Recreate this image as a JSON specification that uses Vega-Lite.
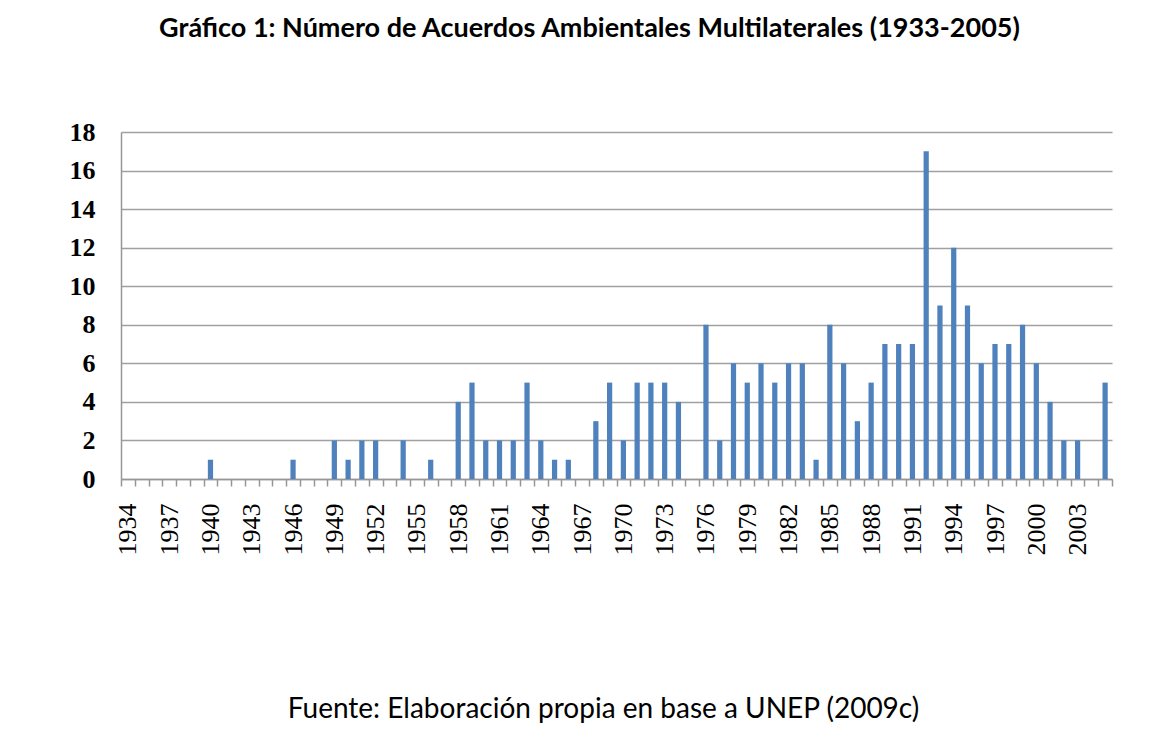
{
  "$schema": "https://vega.github.io/schema/vega-lite/v6.json",
  "autosize": {"type": "none"},
  "width": 991,
  "height": 347,
  "padding": {"left": 121, "top": 132, "right": 54, "bottom": 259},
  "background": "white",
  "title": {
    "text": "Gráfico 1: Número de Acuerdos Ambientales Multilaterales (1933-2005)",
    "font": "Lato",
    "fontSize": 27,
    "fontWeight": "bold",
    "color": "black",
    "anchor": "middle",
    "frame": "group",
    "baseline": "alphabetic",
    "offset": 55,
    "dx": -27
  },
  "data": {
    "values": [
      {"anio": "1934", "acuerdos": 0}, {"anio": "1935", "acuerdos": 0}, {"anio": "1936", "acuerdos": 0},
      {"anio": "1937", "acuerdos": 0}, {"anio": "1938", "acuerdos": 0}, {"anio": "1939", "acuerdos": 0},
      {"anio": "1940", "acuerdos": 1}, {"anio": "1941", "acuerdos": 0}, {"anio": "1942", "acuerdos": 0},
      {"anio": "1943", "acuerdos": 0}, {"anio": "1944", "acuerdos": 0}, {"anio": "1945", "acuerdos": 0},
      {"anio": "1946", "acuerdos": 1}, {"anio": "1947", "acuerdos": 0}, {"anio": "1948", "acuerdos": 0},
      {"anio": "1949", "acuerdos": 2}, {"anio": "1950", "acuerdos": 1}, {"anio": "1951", "acuerdos": 2},
      {"anio": "1952", "acuerdos": 2}, {"anio": "1953", "acuerdos": 0}, {"anio": "1954", "acuerdos": 2},
      {"anio": "1955", "acuerdos": 0}, {"anio": "1956", "acuerdos": 1}, {"anio": "1957", "acuerdos": 0},
      {"anio": "1958", "acuerdos": 4}, {"anio": "1959", "acuerdos": 5}, {"anio": "1960", "acuerdos": 2},
      {"anio": "1961", "acuerdos": 2}, {"anio": "1962", "acuerdos": 2}, {"anio": "1963", "acuerdos": 5},
      {"anio": "1964", "acuerdos": 2}, {"anio": "1965", "acuerdos": 1}, {"anio": "1966", "acuerdos": 1},
      {"anio": "1967", "acuerdos": 0}, {"anio": "1968", "acuerdos": 3}, {"anio": "1969", "acuerdos": 5},
      {"anio": "1970", "acuerdos": 2}, {"anio": "1971", "acuerdos": 5}, {"anio": "1972", "acuerdos": 5},
      {"anio": "1973", "acuerdos": 5}, {"anio": "1974", "acuerdos": 4}, {"anio": "1975", "acuerdos": 0},
      {"anio": "1976", "acuerdos": 8}, {"anio": "1977", "acuerdos": 2}, {"anio": "1978", "acuerdos": 6},
      {"anio": "1979", "acuerdos": 5}, {"anio": "1980", "acuerdos": 6}, {"anio": "1981", "acuerdos": 5},
      {"anio": "1982", "acuerdos": 6}, {"anio": "1983", "acuerdos": 6}, {"anio": "1984", "acuerdos": 1},
      {"anio": "1985", "acuerdos": 8}, {"anio": "1986", "acuerdos": 6}, {"anio": "1987", "acuerdos": 3},
      {"anio": "1988", "acuerdos": 5}, {"anio": "1989", "acuerdos": 7}, {"anio": "1990", "acuerdos": 7},
      {"anio": "1991", "acuerdos": 7}, {"anio": "1992", "acuerdos": 17}, {"anio": "1993", "acuerdos": 9},
      {"anio": "1994", "acuerdos": 12}, {"anio": "1995", "acuerdos": 9}, {"anio": "1996", "acuerdos": 6},
      {"anio": "1997", "acuerdos": 7}, {"anio": "1998", "acuerdos": 7}, {"anio": "1999", "acuerdos": 8},
      {"anio": "2000", "acuerdos": 6}, {"anio": "2001", "acuerdos": 4}, {"anio": "2002", "acuerdos": 2},
      {"anio": "2003", "acuerdos": 2}, {"anio": "2004", "acuerdos": 0}, {"anio": "2005", "acuerdos": 5}
    ]
  },
  "mark": {"type": "bar", "color": "#4f81bd", "width": {"band": 0.38}},
  "encoding": {
    "x": {
      "field": "anio",
      "type": "nominal",
      "sort": null,
      "scale": {"paddingInner": 0, "paddingOuter": 0},
      "axis": {
        "title": "Fuente: Elaboración propia en base a UNEP (2009c)",
        "titleFont": "Lato",
        "titleFontSize": 28,
        "titleFontWeight": "normal",
        "titleColor": "black",
        "titleY": 238,
        "titleX": 482,
        "titleAnchor": "middle",
        "titleAlign": "center",
        "titleBaseline": "alphabetic",
        "tickBand": "extent",
        "ticks": true,
        "tickSize": 7,
        "tickColor": "#969696",
        "tickWidth": 1.5,
        "domainColor": "#969696",
        "domainWidth": 1.5,
        "grid": false,
        "labelAngle": 270,
        "labelAlign": "right",
        "labelBaseline": "middle",
        "labelPadding": 17,
        "labelFont": "Liberation Serif",
        "labelFontSize": 26,
        "labelColor": "black",
        "labelOverlap": false,
        "labelExpr": "(toNumber(datum.value) - 1934) % 3 === 0 ? datum.value : ''"
      }
    },
    "y": {
      "field": "acuerdos",
      "type": "quantitative",
      "scale": {"domain": [0, 18], "nice": false},
      "axis": {
        "title": null,
        "values": [0, 2, 4, 6, 8, 10, 12, 14, 16, 18],
        "ticks": false,
        "labelPadding": 26,
        "labelFont": "Liberation Serif",
        "labelFontSize": 26,
        "labelFontWeight": "bold",
        "labelColor": "black",
        "domainColor": "#969696",
        "domainWidth": 1.5,
        "grid": true,
        "gridColor": "#a0a0a0",
        "gridWidth": 1.5
      }
    }
  },
  "config": {"view": {"stroke": null}}
}
